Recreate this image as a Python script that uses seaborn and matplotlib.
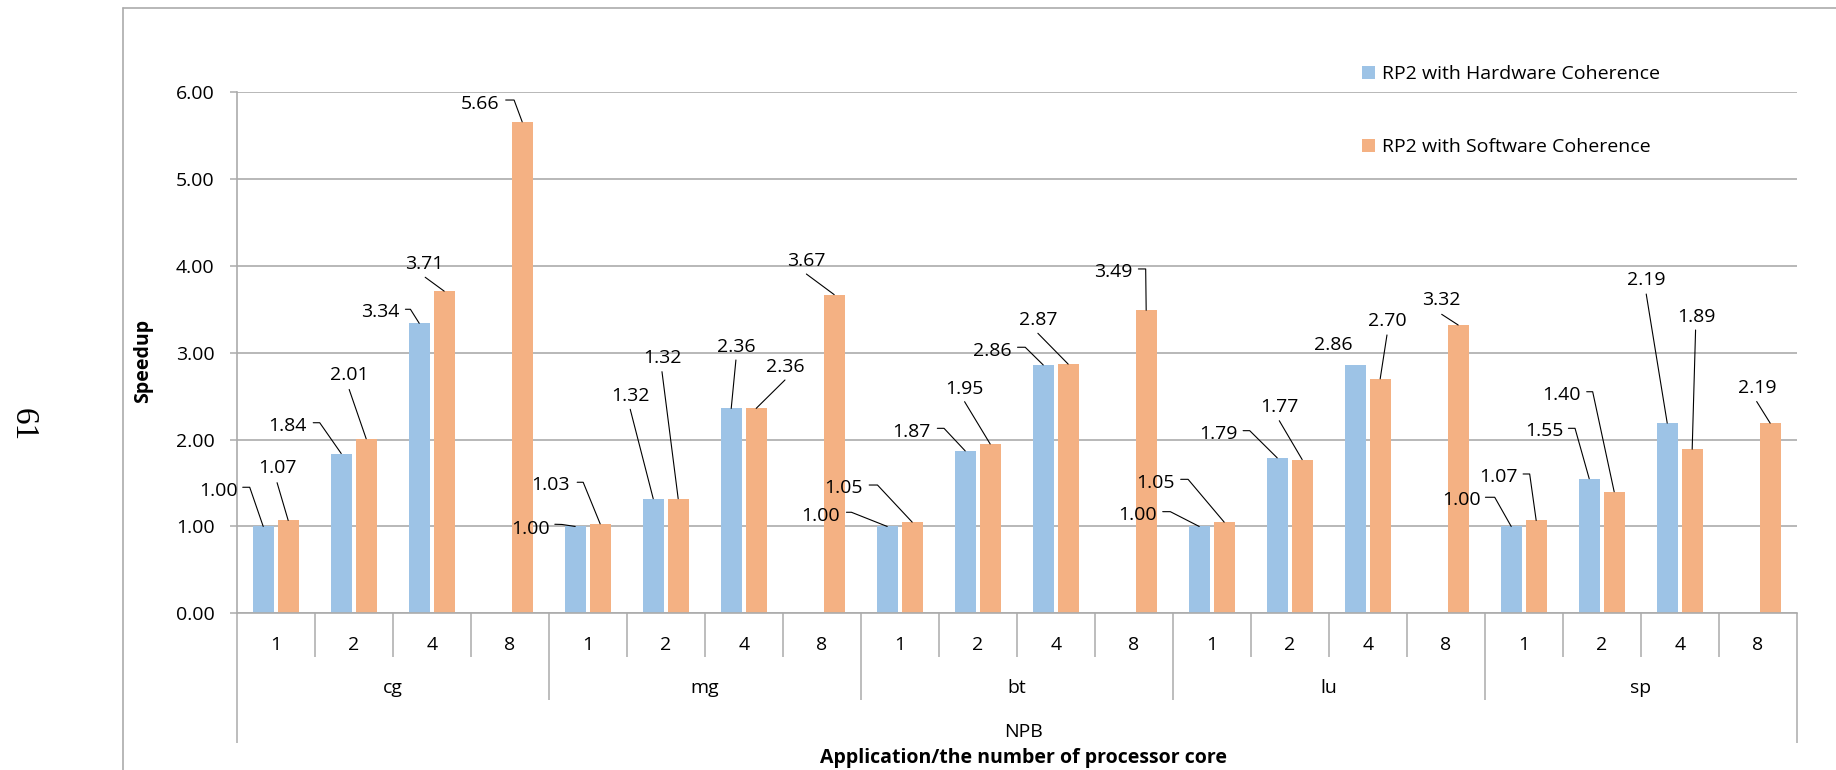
import numpy as np
import pandas as pd
import matplotlib
matplotlib.use('Agg')
import matplotlib.pyplot as plt
import matplotlib.transforms as mtransforms
from matplotlib.lines import Line2D
from matplotlib.patches import Patch
import seaborn as sns

# ---------------- data ----------------
apps = ['cg', 'mg', 'bt', 'lu', 'sp']
cores = ['1', '2', '4', '8']
series_names = ['RP2 with Hardware Coherence', 'RP2 with Software Coherence']
hw_speedup = [1.00, 1.84, 3.34, np.nan,
              1.00, 1.32, 2.36, np.nan,
              1.00, 1.87, 2.86, np.nan,
              1.00, 1.79, 2.86, np.nan,
              1.00, 1.55, 2.19, np.nan]
sw_speedup = [1.07, 2.01, 3.71, 5.66,
              1.03, 1.32, 2.36, 3.67,
              1.05, 1.95, 2.87, 3.49,
              1.05, 1.77, 2.70, 3.32,
              1.07, 1.40, 1.89, 2.19]
y_ticks = [0, 1, 2, 3, 4, 5, 6]
group_title = 'NPB'
x_title = 'Application/the number of processor core'
y_title = 'Speedup'
page_number = '61'

# ---------------- label placement (style): pixel offsets from bar top, +y down ----------------
hw_label_off = [(-45.2, -37.5), (-53.4, -29.5), (-38.5, -13.3), None,
                (-44.9, 0.2), (-22.5, -104.7), (4.9, -63.4), None,
                (-66.7, -12.5), (-53.7, -20.9), (-50.9, -16.0), None,
                (-61.4, -13.2), (-59.1, -26.2), (-21.9, -22.3), None,
                (-50.0, -28.2), (-45.3, -49.4), (-21.0, -144.8), None]
hw_leader = [[(-20.5, -39.2), (-13.5, -39.2), (0, 0)],
             [(-28, -30.8), (-21.5, -30.8), (0, 0)],
             [(-13.8, -14), (-8.8, -14), (0, 0)],
             None,
             [(-20.4, -2.2), (-13.2, -2), (0, 0)],
             [(-23, -89.4), (0, 0)],
             [(4.7, -48.4), (0, 0)],
             None,
             [(-40.8, -14.2), (-35.8, -14.2), (0, 0)],
             [(-27.9, -22.6), (-21.2, -22.6), (0, 0)],
             [(-25.7, -17.7), (-18, -17.7), (0, 0)],
             None,
             [(-36.5, -14.8), (-28.9, -14.8), (0, 0)],
             [(-34.1, -27.2), (-27.5, -27.2), (0, 0)],
             None,
             None,
             [(-25.8, -29.2), (-16.5, -29.2), (0, 0)],
             [(-20.8, -50.4), (-14.2, -50.4), (0, 0)],
             [(-21, -129.1), (0, 0)],
             None]
sw_label_off = [(-11.1, -54.4), (-16.9, -65.5), (-19.6, -29.5), (-42.3, -20.1),
                (-49.7, -40.6), (-16.0, -142.7), (28.7, -43.4), (-28.3, -35.3),
                (-68.5, -36.1), (-25.8, -57.3), (-30.3, -46.4), (-33.0, -40.3),
                (-68.3, -41.4), (-22.7, -54.6), (7.2, -59.9), (-17.0, -26.7),
                (-38.0, -45.4), (-52.5, -99.0), (3.7, -134.2), (-13.3, -37.1)]
sw_leader = [[(-11.1, -37.7), (0, 0)],
             [(-17, -49.3), (0, 0)],
             [(-19, -13.9), (0, 0)],
             [(-16.5, -21.8), (-8.1, -21.8), (0, 0)],
             [(-23, -41.6), (-17, -41.6), (0, 0)],
             [(-16.2, -127), (0, 0)],
             [(28.8, -28.4), (0, 0)],
             [(-27.8, -20.6), (0, 0)],
             [(-43, -37.1), (-34.7, -37.1), (0, 0)],
             [(-25.6, -42.3), (0, 0)],
             [(-30.3, -30.8), (0, 0)],
             [(-7.8, -41.3), (-0.5, -41.3), (0, 0)],
             [(-43.5, -42.8), (-36.1, -42.8), (0, 0)],
             [(-22.9, -38.9), (0, 0)],
             [(6.8, -43.9), (0, 0)],
             [(-16.5, -10.7), (0, 0)],
             [(-13.1, -46.4), (-6.5, -46.4), (0, 0)],
             [(-27.5, -100), (-21.5, -100), (0, 0)],
             [(3.4, -119.2), (0, 0)],
             [(-13.5, -21.6), (0, 0)]]

# ---------------- style ----------------
blue = '#9DC3E6'
orange = '#F4B183'
grid_c = '#ABABAB'
fs = 14

sns.set_theme(style='white')
plt.rcParams['font.family'] = ['Open Sans', 'DejaVu Sans']
plt.rcParams['text.color'] = 'black'

W, H = 1836, 770
fig = plt.figure(figsize=(W / 100, H / 100), dpi=100)
fig.patch.set_facecolor('white')
ax = fig.add_axes([236.7 / W, 1 - 613.3 / H, 1560 / W, 521 / H])

cats = [f'{a}-{c}' for a in apps for c in cores]
df = pd.DataFrame({
    'cat': cats * 2,
    'series': [series_names[0]] * len(cats) + [series_names[1]] * len(cats),
    'speedup': hw_speedup + sw_speedup,
})

sns.barplot(data=df, x='cat', y='speedup', hue='series', order=cats,
            hue_order=series_names, palette=[blue, orange], saturation=1,
            width=0.64, gap=0.16, errorbar=None, legend=False, ax=ax,
            linewidth=0)

ax.set_xlim(-0.5, len(cats) - 0.5)
ax.set_ylim(0, 6)
ax.set_yticks(y_ticks)
ax.set_yticklabels([f'{t:.2f}' for t in y_ticks])
ax.set_xticks([])
ax.set_xlabel('')
ax.set_ylabel('')
ax.tick_params(axis='y', left=True, length=5, width=1.1, color=grid_c,
               pad=11, labelsize=fs, labelcolor='black', direction='out')
ax.yaxis.grid(True, color=grid_c, lw=1.2)
ax.set_axisbelow(True)
for s in ['top', 'right']:
    ax.spines[s].set_visible(False)
for s in ['left', 'bottom']:
    ax.spines[s].set_color(grid_c)
    ax.spines[s].set_linewidth(1.2)

# category / group separators below the axis
sep_tr = mtransforms.blended_transform_factory(ax.transData, ax.transAxes)
for b in range(len(cats) + 1):
    x = b - 0.5
    if b in (0, len(cats)):
        y0 = -0.2495
    elif b % len(cores) == 0:
        y0 = -0.1662
    else:
        y0 = -0.0833
    ax.plot([x, x], [0, y0], transform=sep_tr, color=grid_c, lw=1.1,
            clip_on=False, solid_capstyle='butt')

for i, c in enumerate(cats):
    ax.text(i, -0.0704, cores[i % len(cores)], transform=sep_tr,
            ha='center', va='baseline', fontsize=fs)
for g, a in enumerate(apps):
    ax.text(g * len(cores) + (len(cores) - 1) / 2, -0.1536, a, transform=sep_tr,
            ha='center', va='baseline', fontsize=fs)
ax.text(0.5045, -0.2368, group_title, transform=ax.transAxes, ha='center',
        va='baseline', fontsize=fs)
ax.text(0.5045, -0.2867, x_title, transform=ax.transAxes, ha='center',
        va='baseline', fontsize=fs, fontweight='bold')

fig.text(143 / W, 1 - 361 / H, y_title, rotation=90, ha='center', va='center',
         fontsize=fs, fontweight='bold')

fig.text(23.3 / W, 1 - 425 / H, page_number, rotation=-90, ha='center',
         va='center', fontsize=24, family=['Liberation Serif', 'DejaVu Serif'])

# data labels with leader lines
for cont, offs, leads in zip(ax.containers, [hw_label_off, sw_label_off],
                             [hw_leader, sw_leader]):
    for bar in cont:
        h = bar.get_height()
        if not np.isfinite(h) or h == 0:
            continue
        xc = bar.get_x() + bar.get_width() / 2
        i = int(round(xc))
        tr = (mtransforms.Affine2D().scale(1, -1)
              + mtransforms.ScaledTranslation(xc, h, ax.transData))
        off = offs[i]
        if off is not None:
            ax.text(off[0], off[1] + 6.9, f'{h:.2f}', transform=tr,
                    ha='center', va='baseline', fontsize=fs, clip_on=False)
        if leads[i] is not None:
            ax.add_line(Line2D([p[0] for p in leads[i]], [p[1] for p in leads[i]],
                               transform=tr, color='black', lw=0.8,
                               clip_on=False))

# legend
handles = [Patch(facecolor=blue, edgecolor='none'),
           Patch(facecolor=orange, edgecolor='none')]
fig.legend(handles, series_names, loc='upper left',
           bbox_to_anchor=(1362.3 / W, 1 - 65.0 / H), frameon=False,
           borderpad=0, borderaxespad=0, handlelength=0.63,
           handleheight=0.63, handletextpad=0.36, labelspacing=2.85,
           fontsize=fs)

# outer chart frame (left and top edges)
fig.add_artist(Line2D([122.7 / W, 122.7 / W], [0, 1 - 7.5 / H],
                      transform=fig.transFigure, color=grid_c, lw=1.2))
fig.add_artist(Line2D([122.7 / W, 1], [1 - 7.5 / H, 1 - 7.5 / H],
                      transform=fig.transFigure, color=grid_c, lw=1.2))

fig.savefig('out.png', dpi=100, facecolor='white')
